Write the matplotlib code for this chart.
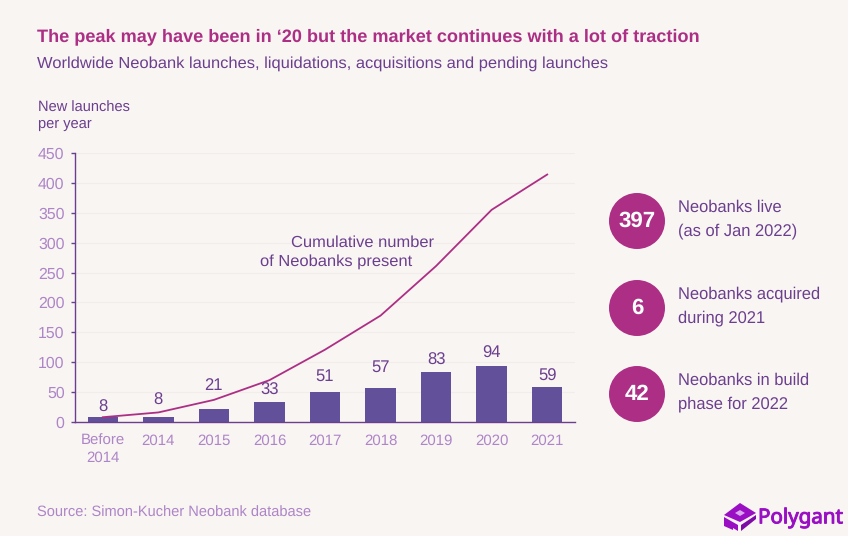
import matplotlib
matplotlib.use('Agg')
import matplotlib.pyplot as plt
import matplotlib.patheffects as pe
from matplotlib.patches import Circle, Polygon

plt.rcParams['font.family'] = ['Liberation Sans', 'DejaVu Sans']
plt.rcParams['text.hinting'] = 'none'

# Data
years = ['Before\n2014', '2014', '2015', '2016', '2017', '2018', '2019', '2020', '2021']
launches = [8, 8, 21, 33, 51, 57, 83, 94, 59]
cumulative = [8, 16, 37, 70, 121, 178, 261, 355, 414]
y_ticks = [0, 50, 100, 150, 200, 250, 300, 350, 400, 450]
stat_values = ['397', '6', '42']
stat_labels = ['Neobanks live\n(as of Jan 2022)', 'Neobanks acquired\nduring 2021', 'Neobanks in build\nphase for 2022']

# gap between bar top and label centre, pixels (the original is hand placed)
label_gaps = [10, 17, 24, 12, 15, 20, 12, 12, 10]

BG = '#F9F5F2'
MAGENTA = '#AC2F85'
DARK_PURPLE = '#6B3F8F'
TICK_PURPLE = '#AD85C8'
BAR = '#62509B'
W, H = 848, 536


def px(x, y):
    # pixel position in the picture -> figure fraction
    return x / W, 1 - y / H


fig = plt.figure(figsize=(W / 100, H / 100), dpi=100, facecolor=BG)

left, right, top, bottom = 75, 575, 153, 422
ax = fig.add_axes([left / W, 1 - bottom / H, (right - left) / W, (bottom - top) / H])
ax.set_facecolor(BG)

x = list(range(len(years)))
ax.bar(x, launches, width=0.55, color=BAR, zorder=2)
ax.plot(x, cumulative, color=MAGENTA, lw=1.3, zorder=3)

for xi, v, gap in zip(x, launches, label_gaps):
    ax.annotate(str(v), (xi, v), xytext=(0, gap), textcoords='offset pixels',
                ha='center', va='center', fontsize=12, color=DARK_PURPLE, zorder=4)

ax.set_xlim(-0.5, 8.5)
ax.set_ylim(0, 450)
ax.set_xticks(x)
ax.set_xticklabels(years, fontsize=10.8, color=TICK_PURPLE, linespacing=1.25)
ax.set_yticks(y_ticks)
ax.set_yticklabels([str(t) for t in y_ticks], fontsize=11.4, color=TICK_PURPLE)
ax.tick_params(axis='x', length=0, pad=8.5)
ax.tick_params(axis='y', length=3, width=1, color=DARK_PURPLE, pad=4.5)
ax.grid(axis='y', color='#F2EDEA', lw=0.8, zorder=0)
ax.set_axisbelow(True)
for side in ['top', 'right']:
    ax.spines[side].set_visible(False)
for side in ['left', 'bottom']:
    ax.spines[side].set_color(DARK_PURPLE)
    ax.spines[side].set_linewidth(1)

# Titles and notes
fig.text(*px(37, 37), 'The peak may have been in ‘20 but the market continues with a lot of traction',
         fontsize=13.1, fontweight='bold', color=MAGENTA, va='center')
fig.text(*px(37, 64), 'Worldwide Neobank launches, liquidations, acquisitions and pending launches',
         fontsize=11.85, color=DARK_PURPLE, va='center')
fig.text(*px(38, 116), 'New launches\nper year', fontsize=10.5, color=DARK_PURPLE, va='center', linespacing=1.15)
fig.text(*px(37, 513), 'Source: Simon-Kucher Neobank database', fontsize=10.5, color=TICK_PURPLE, va='center')
fig.text(*px(434, 243), 'Cumulative number', fontsize=11.85, color=DARK_PURPLE, va='center', ha='right')
fig.text(*px(412, 262), 'of Neobanks present', fontsize=11.85, color=DARK_PURPLE, va='center', ha='right')

# Overlay for the right-hand circles and the logo, in picture pixels
over = fig.add_axes([0, 0, 1, 1], facecolor='none')
over.set_xlim(0, W)
over.set_ylim(H, 0)
over.axis('off')

for cy, value, label in zip([221, 308, 394], stat_values, stat_labels):
    over.add_patch(Circle((637, cy), 28, color=MAGENTA, lw=0))
    over.text(637, cy, value, color='white', fontsize=16, fontweight='bold', ha='center', va='center')
    over.text(678, cy - 2, label, color=DARK_PURPLE, fontsize=11.9, va='center', linespacing=1.6)

# Polygant logo
LOGO = '#9A0FC4'
over.add_patch(Polygon([(724, 515), (740, 503), (756, 513), (740, 522)], color=LOGO, lw=0))
over.add_patch(Polygon([(724, 517), (738, 525), (738, 531), (733, 528), (733, 530), (724, 526)], color=LOGO, lw=0))
over.add_patch(Polygon([(741, 525), (756, 515), (756, 519), (741, 531)], color='#7E0BA6', lw=0))
over.add_patch(Polygon([(735, 513), (740, 510), (745, 513), (740, 516)], color='#D9A8EC', lw=0))
over.text(758, 518, 'Polygant', color=LOGO, fontsize=14.8, va='center', family=['Noto Sans'],
          path_effects=[pe.withStroke(linewidth=0.7, foreground=LOGO)])

fig.savefig('out.png', dpi=100, facecolor=BG)
